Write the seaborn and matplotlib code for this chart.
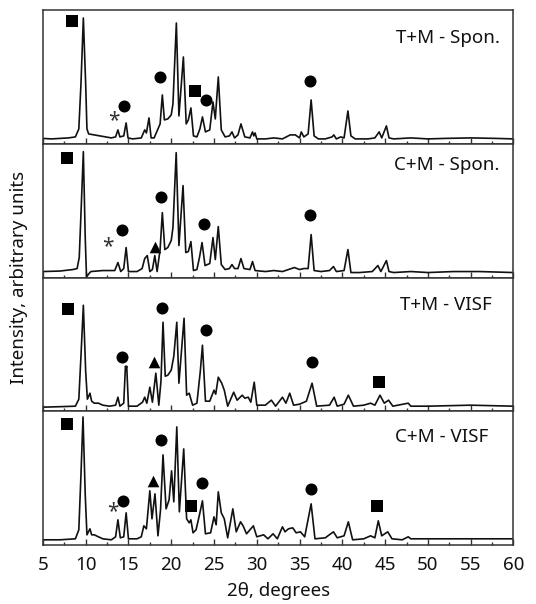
import numpy as np
import pandas as pd
import matplotlib
matplotlib.use('Agg')
import matplotlib.pyplot as plt
import seaborn as sns
from matplotlib.ticker import MultipleLocator

# Panel labels
labels = ['T+M - Spon.', 'C+M - Spon.', 'T+M - VISF', 'C+M - VISF']

# Diffraction patterns (2theta, intensity in arbitrary units)
tm_spon_x = [5.0, 6.0, 7.0, 8.0, 8.8, 9.2, 9.45, 9.73, 10.0, 10.15, 10.35, 11.0, 12.0, 13.0, 13.5,
             13.77, 14.0, 14.45, 14.73, 14.95, 15.5, 16.5, 16.9, 17.1, 17.4, 17.65, 18.0, 18.7,
             18.96, 19.2, 19.6, 20.0, 20.2, 20.6, 20.9, 21.42, 21.75, 22.0, 22.3, 22.6, 23.0,
             23.35, 23.65, 24.0, 24.5, 24.88, 25.15, 25.5, 25.85, 26.3, 26.8, 27.1, 27.4, 27.8,
             28.15, 28.6, 29.2, 29.5, 29.65, 29.8, 30.0, 31.0, 32.0, 33.0, 33.9, 34.5, 35.0,
             35.2, 35.5, 36.0, 36.35, 36.7, 37.2, 38.0, 38.8, 39.0, 39.3, 39.8, 40.2, 40.65,
             41.0, 41.5, 43.0, 43.8, 44.3, 44.6, 45.15, 45.45, 46.0, 48.0, 50.0, 52.0, 55.0,
             58.0, 60.0]
tm_spon_y = [5.5, 5.0, 5.5, 6, 7, 15, 60, 126, 60, 15, 10, 9, 7.5, 6, 7,
             14, 7, 8, 21, 6, 5, 6, 14, 11, 26, 6, 6, 20,
             49, 24, 25, 29, 40, 121, 28, 87, 20, 24, 36, 8, 7,
             15, 27, 12, 14, 42, 25, 67, 14, 7, 8, 12, 6, 9,
             20, 7, 6, 12, 8, 11, 5, 5, 6, 5, 9, 9, 6,
             12, 7, 10, 44, 8, 5, 5, 7, 9, 5, 7, 6, 33,
             8, 5, 5, 6, 12, 6, 18, 6, 5, 6, 5, 5.5, 6,
             5.5, 5]

cm_spon_x = [5.0, 7.0, 8.5, 9.0, 9.25, 9.48, 9.73, 9.95, 10.1, 10.3, 10.6, 12.0, 13.4, 13.77, 14.1,
             14.45, 14.73, 15.0, 16.0, 16.6, 16.9, 17.2, 17.5, 17.8, 18.08, 18.35, 18.7, 18.96,
             19.25, 19.6, 20.0, 20.2, 20.58, 20.9, 21.38, 21.7, 22.0, 22.3, 22.6, 23.0, 23.3,
             23.6, 23.95, 24.5, 24.88, 25.15, 25.5, 25.85, 26.3, 26.8, 27.1, 27.4, 27.8, 28.15,
             28.5, 29.2, 29.5, 29.8, 31.0, 32.0, 33.0, 34.4, 35.0, 35.5, 36.0, 36.35, 36.7,
             37.5, 38.5, 38.96, 39.3, 40.2, 40.65, 41.0, 42.0, 43.5, 44.15, 44.5, 45.15, 45.45,
             46.0, 48.0, 50.0, 53.0, 56.0, 60.0]
cm_spon_y = [6, 6.5, 8, 9, 20, 70, 126, 40, 0.5, 3, 6, 7, 7, 15, 6,
             9, 30, 6, 6, 9, 19, 22, 6, 8, 22, 6, 28, 65,
             28, 30, 37, 50, 125, 32, 92, 25, 26, 36, 7, 8, 20,
             35, 12, 14, 40, 18, 51, 13, 8, 9, 13, 9, 9, 19,
             9, 8, 16, 7, 6, 7, 6, 10, 8, 9, 9, 43, 7,
             6, 7, 11, 6, 7, 28, 5, 5, 6, 12, 6, 17, 6,
             5, 6, 5, 6, 6, 5]

tm_visf_x = [5.0, 7.0, 8.8, 9.2, 9.45, 9.73, 10.0, 10.2, 10.5, 10.7, 11.0, 11.5, 12.0, 12.8, 13.5,
             13.77, 14.0, 14.45, 14.65, 14.73, 14.8, 15.0, 16.0, 16.65, 16.9, 17.15, 17.5, 17.8,
             18.2, 18.55, 18.8, 19.04, 19.3, 19.6, 20.0, 20.3, 20.65, 20.9, 21.5, 21.8, 22.1,
             22.5, 23.0, 23.4, 23.65, 24.0, 24.5, 25.0, 25.2, 25.5, 25.9, 26.2, 26.6, 27.3,
             27.7, 28.3, 28.6, 29.0, 29.3, 29.7, 30.0, 31.0, 31.7, 32.2, 33.0, 33.4, 33.85,
             34.3, 35.0, 35.8, 36.46, 37.0, 38.5, 39.04, 39.4, 40.2, 40.7, 41.3, 42.5, 43.3,
             43.8, 44.4, 44.9, 45.4, 45.9, 47.7, 48.0, 50.0, 55.0, 60.0]
tm_visf_y = [4, 4.5, 5, 12, 55, 106, 40, 12, 18, 10, 8, 8, 6, 5, 6,
             14, 5, 8, 45, 43, 45, 5, 5, 9, 14, 8, 24, 9,
             38, 6, 30, 89, 35, 36, 41, 55, 89, 28, 93, 16, 18,
             6, 8, 40, 66, 10, 10, 21, 17, 34, 28, 21, 5, 19,
             11, 16, 13, 14, 9, 29, 6, 6, 11, 5, 14, 8, 18,
             6, 7, 10, 28, 5, 6, 14, 5, 7, 16, 5, 6, 8,
             6, 16, 8, 11, 5, 8, 5, 5, 6, 5]

cm_visf_x = [5.0, 7.0, 8.8, 9.2, 9.45, 9.69, 9.95, 10.15, 10.5, 10.7, 11.0, 11.5, 12.0, 13.0, 13.5,
             13.77, 14.05, 14.45, 14.73, 15.0, 16.0, 16.5, 16.8, 17.1, 17.5, 17.75, 18.1, 18.45,
             18.75, 19.04, 19.4, 19.75, 20.04, 20.3, 20.65, 20.95, 21.46, 21.8, 22.1, 22.3, 22.55,
             22.9, 23.3, 23.65, 24.0, 24.6, 25.0, 25.25, 25.5, 25.85, 26.2, 26.6, 27.2, 27.6,
             28.1, 28.4, 28.8, 29.6, 30.0, 30.8, 31.3, 31.9, 32.4, 33.0, 33.3, 33.7, 34.2,
             34.6, 35.1, 35.6, 36.35, 36.8, 38.0, 38.96, 39.4, 40.2, 40.7, 41.2, 42.5, 43.3,
             43.8, 44.2, 44.6, 45.3, 45.8, 47.0, 47.7, 48.0, 50.0, 55.0, 60.0]
cm_visf_y = [5, 5, 6, 15, 70, 128, 50, 10, 16, 10, 10, 8, 6, 5, 8,
             25, 7, 8, 32, 6, 6, 8, 19, 16, 54, 26, 51, 9,
             35, 90, 36, 45, 74, 43, 118, 33, 96, 26, 22, 25, 12,
             15, 30, 44, 11, 12, 28, 20, 53, 32, 26, 7, 36, 13,
             23, 19, 11, 19, 8, 10, 6, 11, 6, 18, 13, 16, 17,
             12, 13, 8, 41, 6, 7, 13, 7, 9, 23, 5, 6, 9,
             7, 24, 9, 13, 6, 5, 8, 6, 6, 6, 6]

patterns = [(tm_spon_x, tm_spon_y), (cm_spon_x, cm_spon_y),
            (tm_visf_x, tm_visf_y), (cm_visf_x, cm_visf_y)]

# Phase markers: panel index, 2theta, height
square_panel = [0, 0, 1, 2, 2, 3, 3, 3]
square_x = [8.46, 22.8, 7.8, 7.88, 44.3, 7.8, 22.3, 44.1]
square_y = [122.7, 52.7, 120, 102.7, 28.7, 121, 38.7, 38.7]

circle_panel = [0, 0, 0, 0, 1, 1, 1, 1, 2, 2, 2, 2, 3, 3, 3, 3]
circle_x = [14.5, 18.73, 24.04, 36.27, 14.3, 18.85, 23.85, 36.27,
            14.3, 18.96, 24.1, 36.46, 14.4, 18.85, 23.54, 36.35]
circle_y = [37.7, 66.7, 44.3, 63.3, 47.3, 80.7, 54, 62.3,
            54.3, 103.3, 81.7, 49.3, 44.3, 105.3, 62, 56]

triangle_panel = [1, 2, 3]
triangle_x = [18.08, 18.0, 17.9]
triangle_y = [30.7, 49.3, 64.3]

star_panel = [0, 1, 3]
star_x = [13.27, 12.6, 13.2]
star_y = [26, 34.3, 36]

label_pos = [(0.971, 0.79), (0.971, 0.84), (0.953, 0.794), (0.946, 0.81)]

sns.set_style('white')
plt.rcParams['font.family'] = ['Noto Sans', 'DejaVu Sans']

fig, axes = plt.subplots(4, 1, figsize=(5.36, 6.04), dpi=100, sharex=True)
fig.subplots_adjust(left=0.080, right=0.958, bottom=0.098, top=0.983, hspace=0)

marker_sets = [
    (square_panel, square_x, square_y, 's', 70),
    (circle_panel, circle_x, circle_y, 'o', 75),
    (triangle_panel, triangle_x, triangle_y, '^', 70),
]

for i, ax in enumerate(axes):
    xs, ys = patterns[i]
    sns.lineplot(x=xs, y=ys, ax=ax, color='#111111', linewidth=1.2, sort=False, estimator=None)
    for panels, mx, my, mk, sz in marker_sets:
        px = [x for p, x in zip(panels, mx) if p == i]
        py = [y for p, y in zip(panels, my) if p == i]
        if px:
            sns.scatterplot(x=px, y=py, ax=ax, marker=mk, s=sz, color='black', edgecolor='black',
                            linewidth=0)
    sx = [x for p, x in zip(star_panel, star_x) if p == i]
    sy = [y for p, y in zip(star_panel, star_y) if p == i]
    for x, y in zip(sx, sy):
        ax.text(x, y - 3, '*', ha='center', va='center', fontsize=15, color='#333333')

    ax.text(label_pos[i][0], label_pos[i][1], labels[i], transform=ax.transAxes,
            ha='right', va='center', fontsize=13.5, color='#111111')

    ax.set_xlim(5, 60)
    ax.set_ylim(0, 133.75)
    ax.set_yticks([])
    ax.xaxis.set_major_locator(MultipleLocator(5))
    ax.xaxis.set_minor_locator(MultipleLocator(2.5))
    ax.tick_params(axis='x', which='major', direction='in', length=4, width=1, color='#333333',
                   bottom=True, top=False)
    ax.tick_params(axis='x', which='minor', direction='in', length=2.5, width=1, color='#333333',
                   bottom=True, top=False)
    for sp in ax.spines.values():
        sp.set_color('#333333')
        sp.set_linewidth(1.1)
    ax.set_ylabel('')

axes[-1].tick_params(axis='x', which='major', labelsize=13.5, pad=8, labelcolor='#111111')
axes[-1].set_xlabel('2θ, degrees', fontsize=13.5, labelpad=6, color='#111111')
fig.text(0.036, 0.54, 'Intensity, arbitrary units', rotation=90, ha='center', va='center',
         fontsize=13.5, color='#111111')

fig.savefig('out.png', dpi=100)
